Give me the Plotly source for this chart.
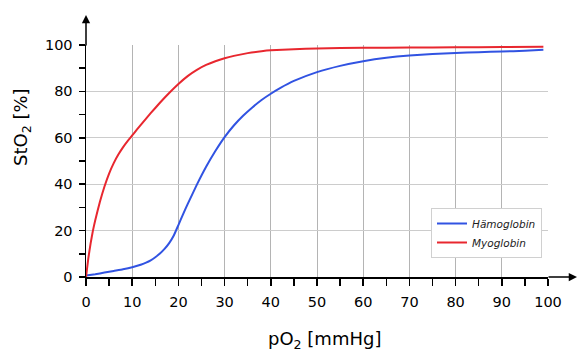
import plotly.graph_objects as go

# pO2 [mmHg] and saturation [%]
mb_x = [0, 0.5, 1, 1.5, 2, 3, 4, 5, 6, 7, 8, 9, 10, 11, 12, 14, 16, 18, 20, 22, 24, 26, 28, 30, 32, 35, 38, 40, 45, 50, 60, 70, 80, 90, 99]
mb_y = [0, 8, 14.5, 20, 24.5, 32.3, 39, 44.6, 49.1, 52.8, 55.9, 58.6, 61.0, 63.5, 65.9, 70.6, 75.1, 79.3, 83.2, 86.6, 89.3, 91.4, 93.0, 94.3, 95.3, 96.5, 97.3, 97.7, 98.2, 98.5, 98.8, 98.9, 99.0, 99.1, 99.2]

hb_x = [0, 2, 4, 6, 8, 10, 12, 13, 14, 15, 16, 17, 18, 19, 20, 21, 22, 24, 26, 28, 30, 32, 34, 36, 38, 40, 42, 45, 50, 55, 60, 65, 70, 75, 80, 85, 90, 95, 99]
hb_y = [0.6, 1.2, 1.9, 2.6, 3.3, 4.2, 5.4, 6.2, 7.2, 8.5, 10.1, 12.1, 14.6, 17.9, 22.4, 27, 31.4, 39.8, 47.5, 54.3, 60.3, 65.3, 69.5, 73.1, 76.3, 79, 81.4, 84.5, 88.3, 91, 93, 94.5, 95.5, 96.1, 96.6, 96.9, 97.2, 97.5, 97.9]

series_names = ["Hämoglobin", "Myoglobin"]
x_title = "pO<sub>2</sub> [mmHg]"
y_title = "StO<sub>2</sub> [%]"

FONT = "DejaVu Sans"
BLUE = "#3153e2"
RED = "#e8272f"

fig = go.Figure()
fig.add_trace(go.Scatter(x=hb_x, y=hb_y, mode="lines", name=series_names[0],
                         line=dict(color=BLUE, width=2, shape="spline", smoothing=0.4)))
fig.add_trace(go.Scatter(x=mb_x, y=mb_y, mode="lines", name=series_names[1],
                         line=dict(color=RED, width=2, shape="spline", smoothing=0.4)))

W, H = 586, 356
L, R, T, B = 86, 38, 45, 79
pw, ph = W - L - R, H - T - B

fig.update_layout(
    width=W, height=H,
    margin=dict(l=L, r=R, t=T, b=B, pad=0),
    paper_bgcolor="white", plot_bgcolor="white",
    font=dict(family=FONT, size=14, color="black"),
    showlegend=True,
    legend=dict(x=(431 - L) / pw, y=(H - B - 208) / ph, xanchor="left", yanchor="top",
                bgcolor="white", bordercolor="#d0d0d0", borderwidth=1,
                font=dict(family=FONT, size=10.5, style="italic", color="#222"),
                itemwidth=30, tracegroupgap=0),
)

fig.update_xaxes(range=[0, 100], dtick=10, tick0=0, showgrid=True, gridcolor="#b4b4b4", gridwidth=1,
                 zeroline=False, showline=True, linecolor="black", linewidth=1.5,
                 ticks="outside", ticklen=7, tickwidth=1.5, tickcolor="black",
                 ticklabelstandoff=4,
                 minor=dict(dtick=5, ticks="outside", ticklen=7, tickwidth=1.5, tickcolor="black", showgrid=False),
                 tickfont=dict(size=14.5), fixedrange=True)
fig.update_yaxes(range=[0, 100], dtick=20, tick0=0, showgrid=True, gridcolor="#cccccc", gridwidth=1,
                 zeroline=False, showline=True, linecolor="black", linewidth=1.5,
                 ticks="outside", ticklen=6, tickwidth=1.5, tickcolor="black",
                 ticklabelstandoff=3,
                 minor=dict(dtick=10, ticks="outside", ticklen=6, tickwidth=1.5, tickcolor="black", showgrid=False),
                 tickfont=dict(size=14.5), fixedrange=True)

# axis arrows
fig.add_annotation(xref="paper", yref="paper", x=(577 - L) / pw, y=0, ax=-30, ay=0,
                   text="", showarrow=True, arrowhead=2, arrowsize=1.1, arrowwidth=1.5, arrowcolor="black")
fig.add_annotation(xref="paper", yref="paper", x=0, y=(H - B - 15) / ph, ax=0, ay=32,
                   text="", showarrow=True, arrowhead=2, arrowsize=1.1, arrowwidth=1.5, arrowcolor="black")

# axis titles
fig.add_annotation(xref="paper", yref="paper", x=(324 - L) / pw, y=(H - B - 340) / ph,
                   text=x_title, showarrow=False, font=dict(size=18, family=FONT),
                   xanchor="center", yanchor="middle")
fig.add_annotation(xref="paper", yref="paper", x=(22 - L) / pw, y=(H - B - 127) / ph,
                   text=y_title, showarrow=False, font=dict(size=18, family=FONT),
                   textangle=-90, xanchor="center", yanchor="middle")

fig.write_html("out.html", config={"displayModeBar": False, "staticPlot": True},
               post_script="document.body.style.margin='0';document.body.style.overflow='hidden';")
